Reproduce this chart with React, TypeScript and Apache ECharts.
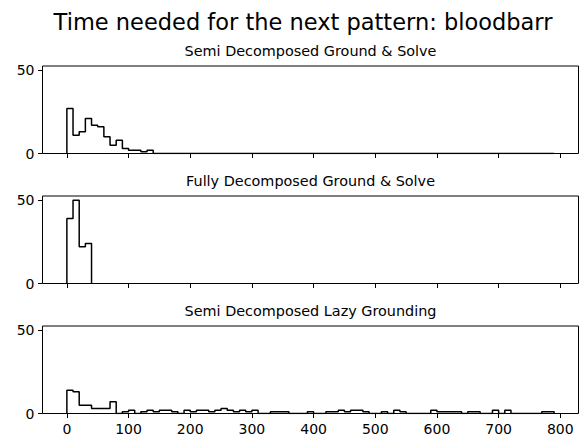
import React, { useEffect, useRef } from "react";
import * as echarts from "echarts";

const BIN_WIDTH = 10;
const xTicks = [0, 100, 200, 300, 400, 500, 600, 700, 800];
const yTicks = [0, 50];
const figureTitle = "Time needed for the next pattern: bloodbarr";
const subplotTitles = [
  "Semi Decomposed Ground & Solve",
  "Fully Decomposed Ground & Solve",
  "Semi Decomposed Lazy Grounding",
];

// bin counts, bins of 10 starting at 0
const semiGroundSolve = [
  27, 11, 13, 21, 17, 16, 10, 5, 8, 3,
  2, 2, 1, 2, 0, 0, 0, 0, 0, 0,
  0, 0, 0, 0, 0, 0, 0, 0, 0, 0,
  0, 0, 0, 0, 0, 0, 0, 0, 0, 0,
  0, 0, 0, 0, 0, 0, 0, 0, 0, 0,
  0, 0, 0, 0, 0, 0, 0, 0, 0, 0,
  0, 0, 0, 0, 0, 0, 0, 0, 0, 0,
  0, 0, 0, 0, 0, 0, 0, 0, 0,
];
const fullyGroundSolve = [39, 50, 22, 24];
const semiLazyGrounding = [
  14, 13, 5, 5, 3, 3, 3, 7,
  0, 1, 2, 0, 1, 2, 1, 2, 2, 1,
  0, 2, 1, 2, 2, 1, 2, 3, 2, 1,
  2, 1, 2, 0, 0, 1, 1, 1, 0, 0,
  0, 1, 0, 0, 1, 1, 2, 1, 2, 2,
  1, 0, 0, 1, 0, 2, 1, 0, 0, 0,
  0, 2, 1, 1, 1, 1, 0, 1, 1, 0,
  0, 2, 0, 2, 0, 0, 0, 0, 0, 1,
  1,
];

const seriesCounts = [semiGroundSolve, fullyGroundSolve, semiLazyGrounding];

function stepOutline(counts: number[], w: number): number[][] {
  const pts: number[][] = [[0, 0]];
  counts.forEach((c, i) => {
    pts.push([i * w, c]);
    pts.push([(i + 1) * w, c]);
  });
  pts.push([counts.length * w, 0]);
  return pts;
}

const FONT = "DejaVu Sans";
const GRID_TOPS = [66, 196, 326];
const GRID_H = 87.5;
const GRID_LEFT = 42.5;
const GRID_RIGHT = 2.5;

export default function App() {
  const ref = useRef<HTMLDivElement>(null);
  useEffect(() => {
    if (!ref.current) return;
    const chart = echarts.init(ref.current, undefined, { renderer: "svg" });
    const grids = GRID_TOPS.map((top) => ({
      left: GRID_LEFT,
      right: GRID_RIGHT,
      top,
      height: GRID_H,
      show: true,
      borderColor: "#000",
      borderWidth: 1,
      backgroundColor: "transparent",
    }));
    const xAxes = GRID_TOPS.map((_, i) => ({
      type: "value",
      gridIndex: i,
      min: -39.5,
      max: 829.5,
      position: "bottom",
      axisLine: { show: false, onZero: false },
      splitLine: { show: false },
      axisTick: {
        show: true,
        length: 4.5,
        inside: false,
        customValues: xTicks,
        lineStyle: { color: "#000", width: 1 },
      },
      axisLabel: {
        show: i === 2,
        customValues: xTicks,
        color: "#000",
        fontSize: 14,
        fontFamily: FONT,
        margin: 8,
      },
    }));
    const yAxes = GRID_TOPS.map((_, i) => ({
      type: "value",
      gridIndex: i,
      min: 0,
      max: 52.5,
      position: "left",
      axisLine: { show: false, onZero: false },
      splitLine: { show: false },
      axisTick: {
        show: true,
        length: 4.5,
        inside: false,
        customValues: yTicks,
        lineStyle: { color: "#000", width: 1 },
      },
      axisLabel: {
        show: true,
        customValues: yTicks,
        color: "#000",
        fontSize: 14,
        fontFamily: FONT,
        margin: 8,
      },
    }));
    const series = seriesCounts.map((counts, i) => ({
      type: "line",
      xAxisIndex: i,
      yAxisIndex: i,
      data: stepOutline(counts, BIN_WIDTH),
      symbol: "none",
      showSymbol: false,
      silent: true,
      lineStyle: { color: "#000", width: 1.5 },
      z: 3,
    }));
    const centerX = GRID_LEFT + (581 - GRID_LEFT - GRID_RIGHT) / 2;
    const graphic: any[] = [
      {
        type: "text",
        x: 303,
        y: 22,
        style: {
          text: figureTitle,
          textAlign: "center",
          textVerticalAlign: "middle",
          fontSize: 22.5,
          fontFamily: FONT,
          fill: "#000",
        },
      },
      ...subplotTitles.map((t, i) => ({
        type: "text",
        x: centerX,
        y: GRID_TOPS[i] - 15,
        style: {
          text: t,
          textAlign: "center",
          textVerticalAlign: "middle",
          fontSize: 14.4,
          fontFamily: FONT,
          fill: "#000",
        },
      })),
    ];
    chart.setOption({
      animation: false,
      backgroundColor: "#fff",
      grid: grids,
      xAxis: xAxes,
      yAxis: yAxes,
      series,
      graphic,
    });
    return () => chart.dispose();
  }, []);
  return (
    <div
      ref={ref}
      style={{ position: "fixed", left: 0, top: 0, width: 581, height: 441 }}
    />
  );
}
